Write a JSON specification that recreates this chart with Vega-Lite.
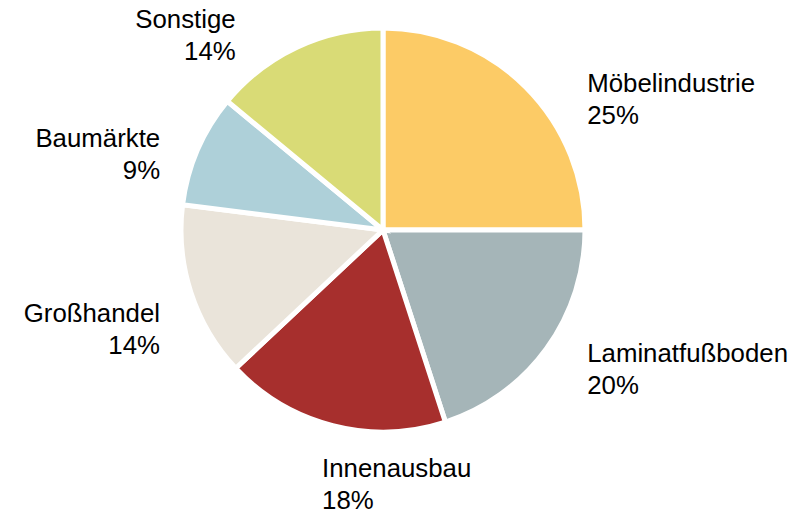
{
  "$schema": "https://vega.github.io/schema/vega-lite/v6.json",
  "width": 766,
  "height": 460,
  "autosize": {"type": "none"},
  "padding": {"left": 0, "top": 0, "right": 43, "bottom": 54},
  "background": "white",
  "config": {"view": {"stroke": null}},
  "data": {
    "values": [
      {"name": "Möbelindustrie", "value": 25, "order": 1},
      {"name": "Laminatfußboden", "value": 20, "order": 2},
      {"name": "Innenausbau", "value": 18, "order": 3},
      {"name": "Großhandel", "value": 14, "order": 4},
      {"name": "Baumärkte", "value": 9, "order": 5},
      {"name": "Sonstige", "value": 14, "order": 6}
    ]
  },
  "transform": [
    {"calculate": "datum.name + '\\n' + datum.value + '%'", "as": "label"}
  ],
  "encoding": {
    "theta": {"field": "value", "type": "quantitative", "stack": true},
    "order": {"field": "order", "type": "quantitative"}
  },
  "layer": [
    {
      "mark": {"type": "arc", "outerRadius": 202, "stroke": "white", "strokeWidth": 5},
      "encoding": {
        "color": {
          "field": "name",
          "type": "nominal",
          "legend": null,
          "scale": {
            "domain": ["Möbelindustrie", "Laminatfußboden", "Innenausbau", "Großhandel", "Baumärkte", "Sonstige"],
            "range": ["#FCCB66", "#A5B5B8", "#A72F2D", "#EAE4DA", "#AED0D9", "#D9DB76"]
          }
        }
      }
    },
    {
      "mark": {"type": "text", "radius": 245, "align": "left", "baseline": "middle", "dx": 31, "dy": 27, "font": "Liberation Sans", "fontSize": 25.8, "lineHeight": 32, "lineBreak": "\n", "color": "black"},
      "encoding": {"text": {"condition": {"test": "datum.name == 'Möbelindustrie'", "field": "label"}, "value": ""}}
    },
    {
      "mark": {"type": "text", "radius": 245, "align": "left", "baseline": "middle", "dx": 6, "dy": -20, "font": "Liberation Sans", "fontSize": 25.8, "lineHeight": 32, "lineBreak": "\n", "color": "black"},
      "encoding": {"text": {"condition": {"test": "datum.name == 'Laminatfußboden'", "field": "label"}, "value": ""}}
    },
    {
      "mark": {"type": "text", "radius": 245, "align": "left", "baseline": "middle", "dx": 0, "dy": 2, "font": "Liberation Sans", "fontSize": 25.8, "lineHeight": 32, "lineBreak": "\n", "color": "black"},
      "encoding": {"text": {"condition": {"test": "datum.name == 'Innenausbau'", "field": "label"}, "value": ""}}
    },
    {
      "mark": {"type": "text", "radius": 245, "align": "right", "baseline": "middle", "dx": 10, "dy": 8, "font": "Liberation Sans", "fontSize": 25.8, "lineHeight": 32, "lineBreak": "\n", "color": "black"},
      "encoding": {"text": {"condition": {"test": "datum.name == 'Großhandel'", "field": "label"}, "value": ""}}
    },
    {
      "mark": {"type": "text", "radius": 245, "align": "right", "baseline": "middle", "dx": 2, "dy": 6, "font": "Liberation Sans", "fontSize": 25.8, "lineHeight": 32, "lineBreak": "\n", "color": "black"},
      "encoding": {"text": {"condition": {"test": "datum.name == 'Baumärkte'", "field": "label"}, "value": ""}}
    },
    {
      "mark": {"type": "text", "radius": 245, "align": "right", "baseline": "middle", "dx": -43, "dy": 12, "font": "Liberation Sans", "fontSize": 25.8, "lineHeight": 32, "lineBreak": "\n", "color": "black"},
      "encoding": {"text": {"condition": {"test": "datum.name == 'Sonstige'", "field": "label"}, "value": ""}}
    }
  ]
}
